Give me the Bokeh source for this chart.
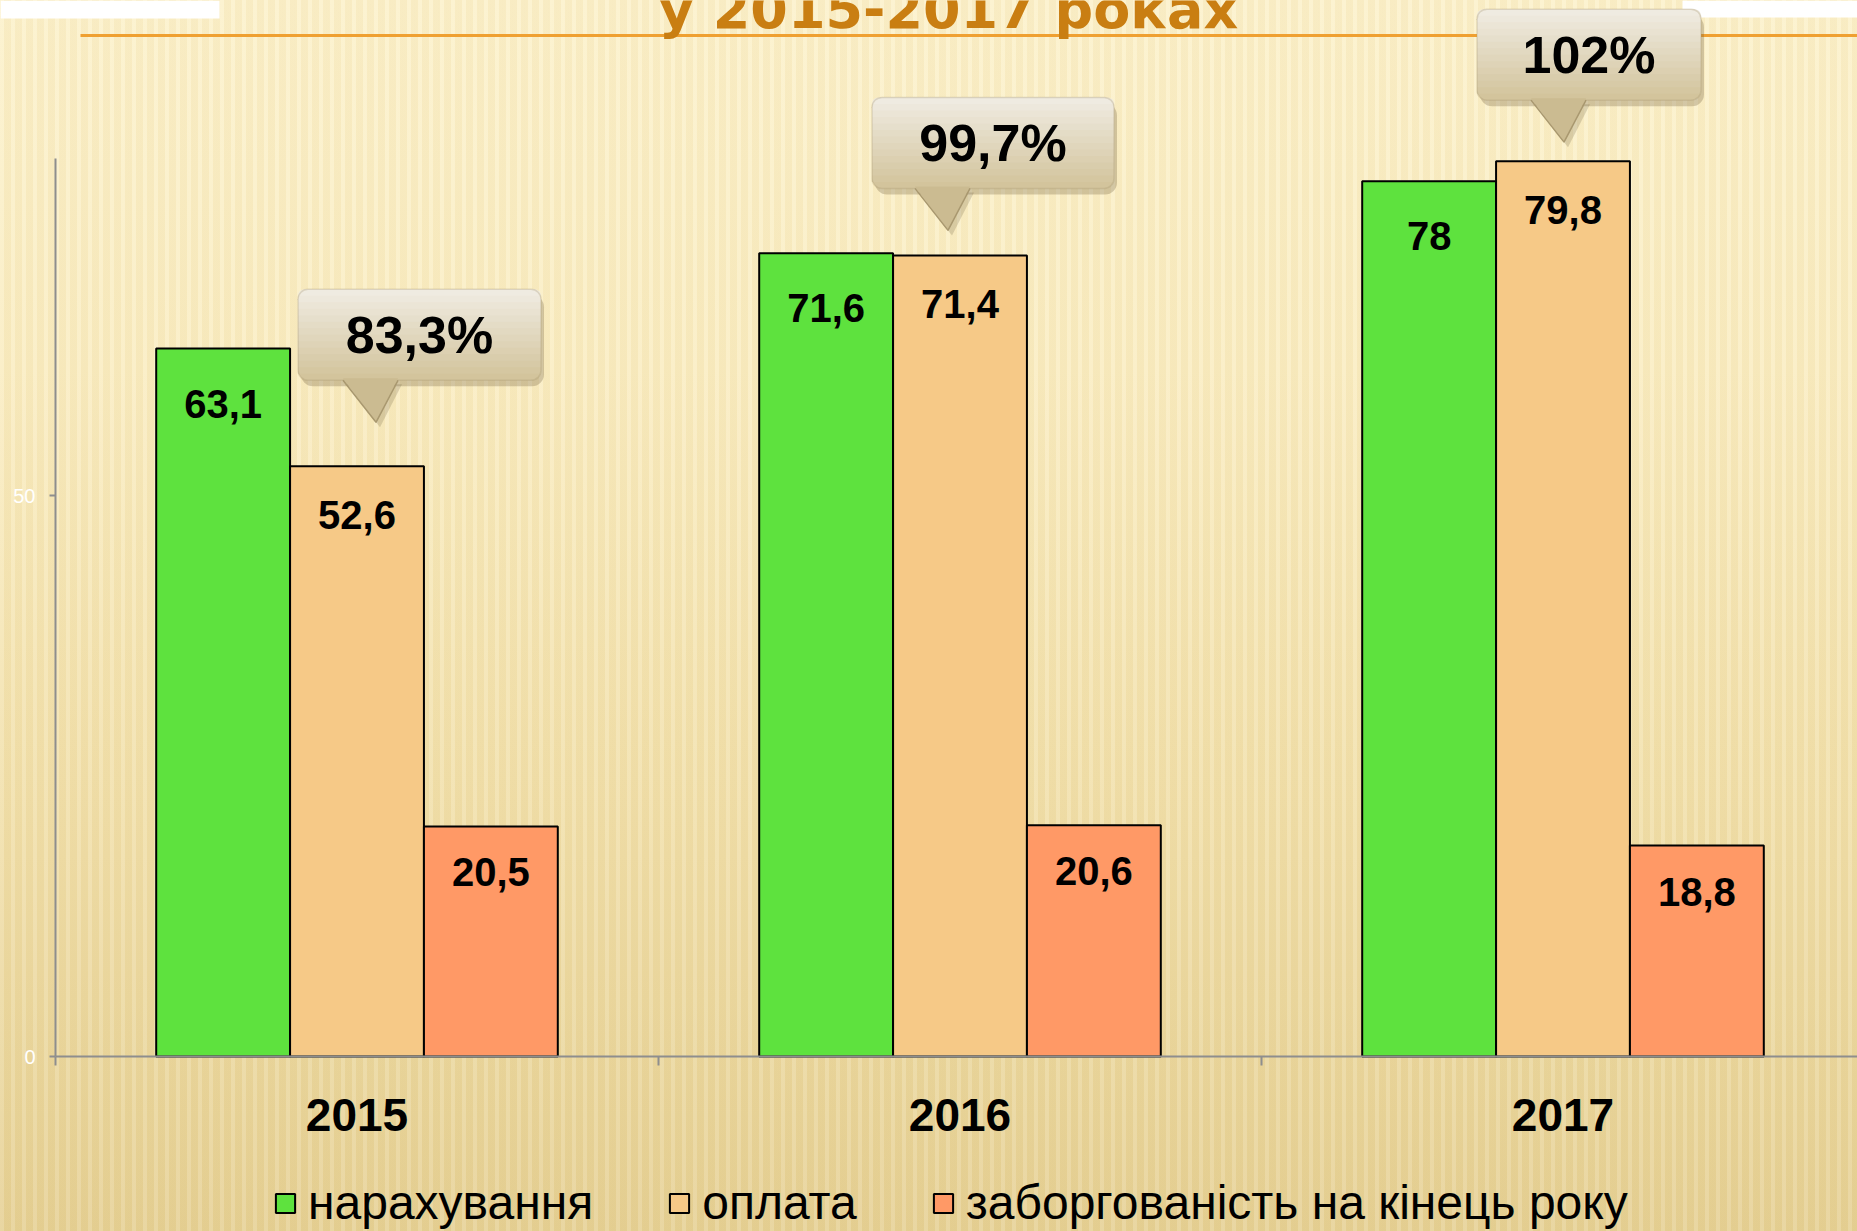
from bokeh.plotting import figure
from bokeh.models import (ColumnDataSource, Range1d, LinearAxis, FixedTicker,
                          BoxAnnotation, Legend, LegendItem)
from bokeh.transform import dodge
from bokeh.core.properties import value
from bokeh.embed import file_html
from bokeh.resources import INLINE

# ---------------- data ----------------
years = ["2015", "2016", "2017"]
accrued = [63.1, 71.6, 78.0]          # нарахування
paid = [52.6, 71.4, 79.8]             # оплата
debt = [20.5, 20.6, 18.8]             # заборгованість на кінець року
series_names = ["нарахування", "оплата", "заборгованість на кінець року"]
paid_ratio_labels = ["83,3%", "99,7%", "102%"]
y_ticks = [0, 50]
y_axis_max = 80
title_text = "у 2015-2017 роках"

# ---------------- layout constants ----------------
W, H = 1857, 1231
ORIGIN_X = 55          # page px of x = 0
ORIGIN_Y = 1056        # page px of y = 0
CAT_PX = 603.0
UNIT_PX = 11.22
X_START = -ORIGIN_X / CAT_PX
X_END = (W - ORIGIN_X) / CAT_PX
Y_START = -(H - ORIGIN_Y) / UNIT_PX
Y_END = ORIGIN_Y / UNIT_PX
BAR_W = 0.222
OFFSETS = [-BAR_W, 0.0, BAR_W]
COLORS = ["#5EE23E", "#F6C987", "#FF9966"]
LABEL_DROP = [55, 49, 46]
AXIS_GRAY = "#8E8E8E"


def px_x(px):
    return px / CAT_PX


def px_y(px):
    return px / UNIT_PX


def page_x(px):
    return (px - ORIGIN_X) / CAT_PX


def page_y(py):
    return (ORIGIN_Y - py) / UNIT_PX


def fmt(v):
    return f"{v:g}".replace(".", ",")


def mix(c1, c2, t):
    return "#%02X%02X%02X" % tuple(round(a + (b - a) * t) for a, b in zip(c1, c2))


centers = [i + 0.5 for i in range(len(years))]

p = figure(width=W, height=H, output_backend="svg", toolbar_location=None,
           x_range=Range1d(X_START, X_END), y_range=Range1d(Y_START, Y_END),
           x_axis_type=None, y_axis_type=None,
           min_border_left=0, min_border_right=0, min_border_top=0, min_border_bottom=0)
p.background_fill_color = None
p.border_fill_color = None
p.outline_line_color = None
p.styles = {
    "background-image": (
        "repeating-linear-gradient(90deg, rgba(255,255,255,0.12) 0px, rgba(255,255,255,0.12) 4px, "
        "rgba(180,140,50,0.05) 4px, rgba(180,140,50,0.05) 11px), "
        "linear-gradient(180deg, #FCF1CB 0%, #FAEDC2 30%, #F3E2AE 60%, #E6D195 100%)"
    )
}

# ---------------- axes (drawn at the data origin) ----------------
xaxis = LinearAxis(
    fixed_location=0, bounds=(0, X_END),
    ticker=FixedTicker(ticks=centers, minor_ticks=[float(i) for i in range(len(years) + 1)]),
    major_label_overrides={c: y for c, y in zip(centers, years)},
    axis_line_color=AXIS_GRAY, axis_line_width=2,
    major_tick_line_color=None, major_tick_out=0, major_tick_in=0,
    minor_tick_line_color=AXIS_GRAY, minor_tick_line_width=2, minor_tick_out=9, minor_tick_in=0,
    major_label_text_font="Liberation Sans", major_label_text_font_style="bold",
    major_label_text_font_size="46px", major_label_text_color="black",
    major_label_standoff=33,
)
p.add_layout(xaxis, "below")

yaxis = LinearAxis(
    fixed_location=0, ticker=FixedTicker(ticks=y_ticks), bounds=(0, y_axis_max),
    axis_line_color=AXIS_GRAY, axis_line_width=2,
    major_tick_line_color=AXIS_GRAY, major_tick_line_width=2, major_tick_out=6, major_tick_in=0,
    minor_tick_line_color=None,
    major_label_text_font="Liberation Sans", major_label_text_font_size="20px",
    major_label_text_color="white", major_label_standoff=14,
)
p.add_layout(yaxis, "left")

# ---------------- decorations (slide title strip) ----------------
p.add_layout(BoxAnnotation(left=X_START, right=page_x(219), bottom=page_y(18), top=Y_END,
                           fill_color="white", fill_alpha=1, line_alpha=0))
p.add_layout(BoxAnnotation(left=page_x(1682), right=X_END, bottom=page_y(17), top=Y_END,
                           fill_color="white", fill_alpha=1, line_alpha=0))
p.segment(x0=[page_x(80)], y0=[page_y(35)], x1=[X_END], y1=[page_y(35)],
          line_color="#EFA031", line_width=3)
p.text(x=[page_x(948)], y=[page_y(9)], text=[title_text],
       text_font=value("DejaVu Sans"), text_font_style="bold", text_font_size="54px",
       text_color="#C97E12", text_align="center", text_baseline="alphabetic")

# ---------------- bars ----------------
src = ColumnDataSource(dict(
    x=centers,
    accrued=accrued, paid=paid, debt=debt,
    accrued_lbl=[fmt(v) for v in accrued],
    paid_lbl=[fmt(v) for v in paid],
    debt_lbl=[fmt(v) for v in debt],
))
fields = ["accrued", "paid", "debt"]
bar_renderers = []
for f, off, col, drop in zip(fields, OFFSETS, COLORS, LABEL_DROP):
    r = p.vbar(x=dodge("x", off), top=f, bottom=0, width=BAR_W, source=src,
               fill_color=col, line_color="black", line_width=2)
    bar_renderers.append(r)
    p.text(x=dodge("x", off), y=f, text=f + "_lbl", source=src,
           text_align="center", text_baseline="middle", y_offset=drop,
           text_font=value("Liberation Sans"), text_font_style="bold",
           text_font_size="40px", text_color="black")

# ---------------- callouts ----------------
TIP_DX = [19, -12, 1]
TIP_UP = [44, 25, 19]
BOX_W = [243, 242, 224]
BOX_H = 91
BOX_LEFT_FROM_TIP = [78, 76, 87]
BOX_GAP = 42
GRAD_TOP = (0xEF, 0xEB, 0xE1)
GRAD_BOT = (0xD3, 0xC4, 0x9C)
BORDER = "#A9986F"
N = 14
cx_list, cy_list = [], []
for i in range(len(years)):
    tx = centers[i] + OFFSETS[1] + px_x(TIP_DX[i])
    ty = paid[i] + px_y(TIP_UP[i])
    left = tx - px_x(BOX_LEFT_FROM_TIP[i])
    right = left + px_x(BOX_W[i])
    bottom = ty + px_y(BOX_GAP)
    top = bottom + px_y(BOX_H)
    # shadow
    p.add_layout(BoxAnnotation(left=left + px_x(3), right=right + px_x(3),
                               bottom=bottom - px_y(6), top=top - px_y(6),
                               fill_color="#6B5A3A", fill_alpha=0.28, line_alpha=0,
                               border_radius=12))
    # gradient body
    for k in range(N):
        b = bottom + (top - bottom) * k / N
        c = mix(GRAD_BOT, GRAD_TOP, k / (N - 1))
        rad = 10 if k == 0 else (10, 10, 0, 0)
        p.add_layout(BoxAnnotation(left=left, right=right, bottom=b, top=top,
                                   fill_color=c, fill_alpha=1, line_alpha=0,
                                   border_radius=rad))
    p.add_layout(BoxAnnotation(left=left, right=right, bottom=bottom, top=top,
                               fill_alpha=0, line_color=BORDER, line_width=1.5,
                               border_radius=10))
    # pointer shadow
    p.patch([tx - px_x(30), tx + px_x(26), tx + px_x(4)],
            [bottom - px_y(4), bottom - px_y(4), ty - px_y(5)],
            fill_color="#6B5A3A", fill_alpha=0.22, line_alpha=0)
    # pointer
    p.patch([tx - px_x(33), tx + px_x(22), tx],
            [bottom + px_y(2), bottom + px_y(2), ty],
            fill_color="#CBBB91", line_alpha=0, level="overlay")
    p.line([tx - px_x(33), tx, tx + px_x(22)], [bottom, ty, bottom],
           line_color=BORDER, line_width=1.5, level="overlay")
    cx_list.append((left + right) / 2)
    cy_list.append((bottom + top) / 2)

p.text(x=cx_list, y=cy_list, text=paid_ratio_labels, level="overlay",
       text_align="center", text_baseline="middle",
       text_font=value("Liberation Sans"), text_font_style="bold",
       text_font_size="52px", text_color="black")

# ---------------- legend ----------------
legend = Legend(
    items=[LegendItem(label=value(n), renderers=[r]) for n, r in zip(series_names, bar_renderers)],
    orientation="horizontal", location=(273, 1),
    glyph_width=24, glyph_height=24, label_standoff=11, spacing=74,
    padding=0, margin=0, background_fill_alpha=0, border_line_alpha=0,
    label_text_font="Liberation Sans", label_text_font_size="48px",
    label_text_color="black", label_height=24,
)
p.add_layout(legend, "center")

open("out.html", "w").write(file_html(p, INLINE))
